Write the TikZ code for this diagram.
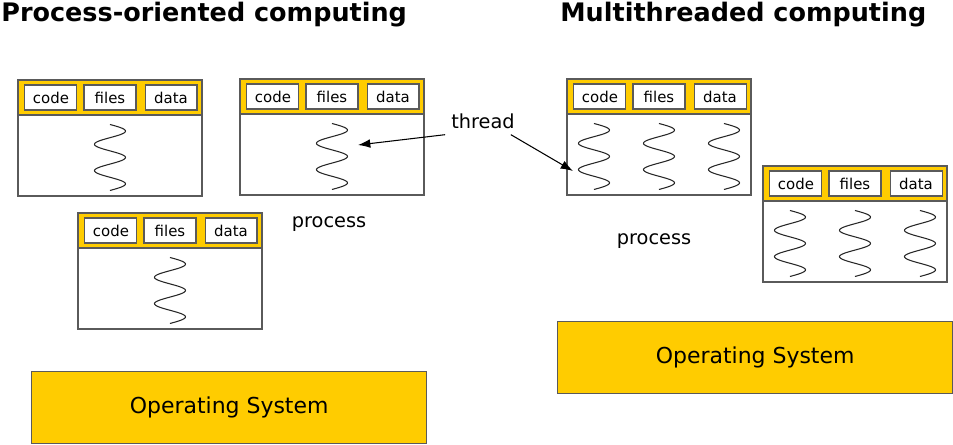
\documentclass[tikz,border=0pt]{standalone}
\usepackage{fontspec}
\setmainfont{DejaVu Sans}
\usetikzlibrary{positioning, arrows.meta}
\definecolor{osyellow}{RGB}{255,204,0}
\definecolor{frame}{RGB}{90,90,90}

\begin{document}
\begin{tikzpicture}[
    x=0.02cm, y=-0.02cm,
    header/.style={rectangle, draw=frame, fill=osyellow, line width=0.8pt, minimum width=3.68cm, minimum height=0.7cm, outer sep=0pt, anchor=north west},
    body/.style={rectangle, draw=frame, fill=white, line width=0.8pt, minimum width=3.68cm, minimum height=1.62cm, outer sep=0pt},
    part/.style={rectangle, draw=frame, fill=white, line width=0.6pt, minimum width=1.04cm, minimum height=0.5cm, inner sep=1pt, font=\fontsize{8.5}{10}\selectfont},
    thread/.style={draw=black!85, line width=0.6pt},
    pointer/.style={-{Latex[length=7pt,width=5pt]}, line width=0.6pt},
    osbox/.style={rectangle, draw=frame, fill=osyellow, line width=0.8pt, minimum width=7.9cm, minimum height=1.44cm, anchor=north west, font=\fontsize{12.5}{15}\selectfont},
    note/.style={font=\fontsize{11}{13}\selectfont},
    heading/.style={anchor=base west, inner sep=0pt, font=\bfseries\fontsize{14.5}{17}\selectfont}
]
\useasboundingbox (0,0) rectangle (953,445);

% Titles
\node[heading] (ptitle) at (1,22) {Process-oriented computing};
\node[heading] (mtitle) at (560,22) {Multithreaded computing};

% Processes: header with code/files/data, body below
\foreach \n/\px/\py in {1/18/80, 2/240/79, 3/78/213, 4/567/79, 5/763/166} {
  \node[header] (head\n) at (\px,\py) {};
  \node[body, below=0cm of head\n] (body\n) {};
  \node[part] (files\n) at (head\n) {files};
  \node[part, left=0.12cm of files\n] (code\n) {code};
  \node[part, right=0.16cm of files\n] (data\n) {data};
}

% Threads
\foreach \n in {1,2,3}
  \draw[thread, shift={(body\n.center)}] plot[domain=0:900, samples=91, smooth] ({15.5*sin(\x)}, {-31+\x/900*66});
\foreach \n in {4,5}
  \foreach \dx in {-65,0,65}
    \draw[thread, shift={(body\n.center)}] plot[domain=0:900, samples=91, smooth] ({\dx+15.5*sin(\x)}, {-31+\x/900*66});

% Labels
\node[note] (threadlbl) at (483,121) {thread};
\node[note] (proc1) at (329,224) {process};
\node[note] (proc2) at (654,241) {process};

\coordinate (tip2) at (358,145);
\coordinate (tip4) at (573,171);
\draw[pointer] (threadlbl.south west) -- (tip2);
\draw[pointer] ([xshift=-0.2cm]threadlbl.south east) -- (tip4);

% Operating system
\node[osbox] (os1) at (31,371) {Operating System};
\node[osbox] (os2) at (557,321) {Operating System};

\end{tikzpicture}
\end{document}
